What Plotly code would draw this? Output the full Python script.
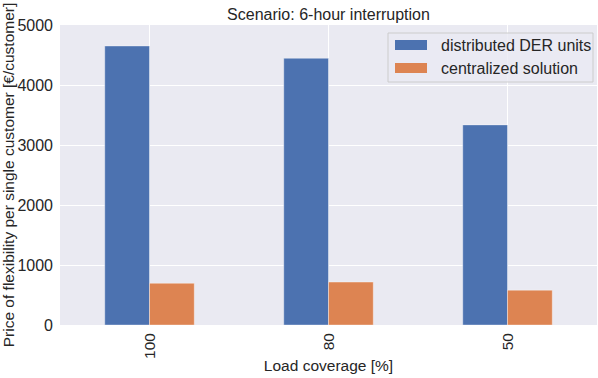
import plotly.graph_objects as go

# Data: price of flexibility per customer for each load coverage level
load_coverage = ["100", "80", "50"]
distributed_der = [4650, 4445, 3335]
centralized = [695, 715, 580]

series_names = ["distributed DER units", "centralized solution"]
series_colors = ["#4C72B0", "#DD8452"]

FONT = "Liberation Sans, Arial, sans-serif"
TEXT = "#262626"

fig = go.Figure()
for name, vals, col in zip(series_names, [distributed_der, centralized], series_colors):
    fig.add_trace(go.Bar(
        x=list(range(len(load_coverage))), y=vals, name=name,
        marker=dict(color=col, line=dict(color="rgba(255,255,255,0.6)", width=0.6)),
        showlegend=False,
    ))

W, H = 598, 378
L, R, T, B = 60, 1, 25, 53
pw, ph = W - L - R, H - T - B

def px(x):
    return (x - L) / pw

def py(y):
    return (H - B - y) / ph

fig.update_layout(
    width=W, height=H,
    margin=dict(l=L, r=R, t=T, b=B, pad=0),
    paper_bgcolor="white", plot_bgcolor="#EAEAF2",
    barmode="group", bargap=0.5, bargroupgap=0,
    font=dict(family=FONT, color=TEXT, size=16),
    xaxis=dict(
        range=[-0.5, 2.5], tickmode="array",
        tickvals=list(range(len(load_coverage))), ticktext=load_coverage,
        tickangle=-90, tickfont=dict(size=15.5, color=TEXT),
        showgrid=True, gridcolor="white", gridwidth=1.2,
        zeroline=False, showline=False, ticks="", ticklabelstandoff=4,
        title=dict(text="Load coverage [%]", font=dict(size=15.5, color=TEXT), standoff=2),
    ),
    yaxis=dict(
        range=[0, 5000], tickvals=[0, 1000, 2000, 3000, 4000, 5000],
        tickfont=dict(size=16, color=TEXT),
        showgrid=True, gridcolor="white", gridwidth=1.2,
        zeroline=False, showline=False, ticks="", ticklabelstandoff=6,
        title=dict(text="Price of flexibility per single customer [€/customer]",
                   font=dict(size=15.5, color=TEXT), standoff=2),
    ),
    title=dict(text="Scenario: 6-hour interruption", x=(L + pw / 2) / W, xanchor="center",
               y=1 - 14 / H, yanchor="middle", font=dict(size=16, color=TEXT)),
)

# Legend box drawn in plot-domain coordinates
fig.add_shape(type="rect", xref="paper", yref="paper",
              x0=px(388), x1=px(593), y0=py(82), y1=py(33),
              fillcolor="rgba(234,234,242,0.8)", line=dict(color="#CCCCCC", width=1), layer="above")
for i, (name, col) in enumerate(zip(series_names, series_colors)):
    yc = 45 + i * 23
    fig.add_shape(type="rect", xref="paper", yref="paper",
                  x0=px(395), x1=px(427), y0=py(yc + 5), y1=py(yc - 5),
                  fillcolor=col, line=dict(width=0), layer="above")
    fig.add_annotation(text=name, xref="paper", yref="paper", x=px(439), y=py(yc),
                       xanchor="left", yanchor="middle", showarrow=False,
                       font=dict(size=16, color=TEXT))

fig.write_html("out.html")
